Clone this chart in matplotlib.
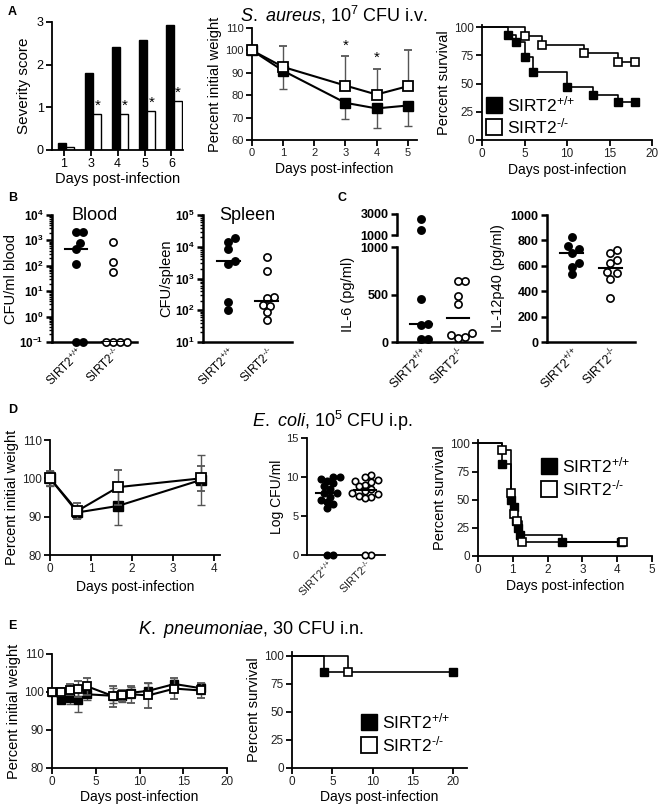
import numpy as np
import matplotlib
matplotlib.use("Agg")
import matplotlib.pyplot as plt
from matplotlib.lines import Line2D
from matplotlib.ticker import LogLocator, NullFormatter

plt.rcParams['font.family'] = ['Liberation Sans', 'DejaVu Sans']
plt.rcParams['mathtext.fontset'] = 'custom'
plt.rcParams['mathtext.rm'] = 'Liberation Sans'
plt.rcParams['mathtext.it'] = 'Liberation Sans:italic'
plt.rcParams['mathtext.bf'] = 'Liberation Sans:bold'

W, H = 661, 810
WT = r"SIRT2$^{\text{+/+}}$"
KO = r"SIRT2$^{\text{-/-}}$"
TICK = '#222222'

# ---------------- data ----------------
# A: severity score
sev_days = ['1', '3', '4', '5', '6']
sev_wt = [0.17, 1.8, 2.42, 2.58, 2.92]
sev_ko = [0.08, 0.85, 0.85, 0.92, 1.15]
sev_star = [False, True, True, True, True]

# A: weight, S. aureus
sa_days = [0, 1, 3, 4, 5]
sa_wt = [100, 90.9, 76.6, 74.1, 75.4]
sa_wt_err = [0, 8.3, 7.4, 8.9, 9.0]
sa_ko = [100, 92.6, 84.3, 80.3, 84.0]
sa_ko_err = [0, 9.2, 13.2, 11.2, 16.0]
sa_star_days = [3, 4]
sa_star_y = [99, 93.5]

# A: survival, S. aureus
sa_surv_t_wt = [0, 3, 4, 5, 6, 10, 13, 16, 18]
sa_surv_wt = [100, 93.3, 86.7, 73.3, 60, 46.7, 40, 33.3, 33.3]
sa_surv_t_ko = [0, 5, 7, 12, 16, 18]
sa_surv_ko = [100, 92.3, 84.6, 76.9, 69.2, 69.2]

# B: bacterial load
blood_wt = [2070, 2070, 815, 470, 123, 0.1, 0.1]
blood_ko = [880, 145, 58, 0.1, 0.1, 0.1, 0.1]
spleen_wt = [19000, 14400, 8500, 3550, 2800, 182, 100]
spleen_ko = [4800, 1700, 270, 250, 150, 140, 90, 48]

# C: cytokines
il6_wt = [2500, 1500, 457, 186, 179, 36, 36]
il6_ko = [643, 640, 482, 404, 96, 71, 55, 46]
il12_wt = [824, 755, 729, 703, 624, 587, 532]
il12_ko = [724, 703, 645, 620, 548, 540, 500, 347]

# D: E. coli
ec_days = [0, 0.67, 1.66, 3.69]
ec_wt = [100, 91.1, 92.8, 99.6]
ec_wt_err = [2, 1.5, 5.1, 6.6]
ec_ko = [100, 91.5, 97.7, 100]
ec_ko_err = [2, 2, 4.6, 3.2]
ec_cfu_wt = [10.0, 10.0, 9.8, 9.5, 9.2, 8.8, 8.5, 8.0, 7.9, 7.5, 7.0, 6.8, 6.5, 6.0, 0, 0]
ec_cfu_ko = [10.2, 10.0, 9.6, 9.5, 9.3, 9.0, 8.8, 8.5, 8.2, 8.0, 7.8, 7.6, 7.4, 7.3, 0, 0]
ec_surv_t_wt = [0, 0.68, 0.94, 1.03, 1.1, 1.14, 1.22, 2.4, 4.1]
ec_surv_wt = [100, 81.25, 50, 43.75, 31.25, 25, 18.75, 12.5, 12.5]
ec_surv_t_ko = [0, 0.68, 0.96, 1.03, 1.13, 1.25, 4.17]
ec_surv_ko = [100, 93.75, 56.25, 37.5, 31.25, 12.5, 12.5]

# E: K. pneumoniae
kp_days = [0, 1, 2, 3, 4, 7, 8, 9, 11, 14, 17]
kp_wt = [100, 98, 98.3, 97.8, 99.4, 99, 99, 99.8, 100.3, 102.1, 101]
kp_wt_err = [0.5, 1, 1.5, 3, 1.5, 2, 1.5, 1.5, 2, 1, 1.5]
kp_ko = [100, 100, 100.6, 100.8, 101.5, 98.9, 99.1, 99.4, 99.1, 100.9, 100.4]
kp_ko_err = [0.5, 1, 1.5, 2, 2.3, 2.8, 1.5, 2.3, 3.4, 2.8, 1.9]
kp_surv_t_wt = [0, 4, 20]
kp_surv_wt = [100, 85.7, 85.7]
kp_surv_t_ko = [0, 7]
kp_surv_ko = [100, 85.7]


def add_ax(fig, x0, y0, x1, y1):
    return fig.add_axes([x0 / W, 1 - y1 / H, (x1 - x0) / W, (y1 - y0) / H])


def style(ax, lw=1.3, size=8, color=TICK, bold=False):
    for s in ['top', 'right']:
        ax.spines[s].set_visible(False)
    for s in ['left', 'bottom']:
        ax.spines[s].set_linewidth(lw)
    ax.tick_params(direction='out', length=4, width=lw, labelsize=size, labelcolor=color, pad=2)
    if bold:
        for lab in ax.get_yticklabels():
            lab.set_fontweight('bold')


def swarm_x(ax, center, vals, diam):
    pts = ax.transData.transform(np.column_stack([np.full(len(vals), center), vals]))
    order = np.argsort(pts[:, 1])
    placed = []
    xs = np.zeros(len(vals))
    for i in order:
        px, py = pts[i]
        off = 0
        for k in range(60):
            off = ((k + 1) // 2) * (1 if k % 2 else -1) * diam * 0.5
            if all((px + off - qx) ** 2 + (py - qy) ** 2 >= (diam * 0.95) ** 2 for qx, qy in placed):
                break
        placed.append((px + off, py))
        xs[i] = px + off
    back = ax.transData.inverted().transform(np.column_stack([xs, pts[:, 1]]))
    return back[:, 0]


def dots(ax, vals, center, filled, diam=7, ms=5.2):
    xs = swarm_x(ax, center, vals, diam)
    ax.plot(xs, vals, 'o', ms=ms, mfc='k' if filled else 'w', mec='k', mew=1.2,
            ls='none', clip_on=False, zorder=3)


def median_line(ax, center, vals, half=0.3):
    m = np.median(vals)
    ax.plot([center - half, center + half], [m, m], color='k', lw=1.5, zorder=4)


def group_xticks(ax, size=10.5):
    ax.set_xticks([1, 2])
    ax.set_xticklabels([WT, KO], rotation=45, ha='right', va='top',
                       rotation_mode='anchor', fontsize=size, color='k')
    ax.tick_params(axis='x', length=0, pad=4)


def weight(ax, days, wt, wt_err, ko, ko_err, wt_dir='both', ko_dir='both', ms=6.5):
    def yerr(err, d):
        err = np.array(err, float)
        z = np.zeros_like(err)
        if d == 'down':
            return [err, z]
        if d == 'up':
            return [z, err]
        return [err, err]
    ax.errorbar(days, wt, yerr=yerr(wt_err, wt_dir), fmt='-s', color='k', mfc='k', mec='k',
                ms=ms, lw=1.5, ecolor='#555555', elinewidth=1, capsize=3, clip_on=False, zorder=3)
    ax.errorbar(days, ko, yerr=yerr(ko_err, ko_dir), fmt='-s', color='k', mfc='w', mec='k',
                mew=1.3, ms=ms, lw=1.5, ecolor='#555555', elinewidth=1, capsize=3, clip_on=False, zorder=4)


def survival(ax, t_wt, s_wt, t_ko, s_ko, ms=6):
    ax.step(t_wt, s_wt, where='post', color='k', lw=1.2, clip_on=False)
    ax.step(t_ko, s_ko, where='post', color='k', lw=1.2, clip_on=False)
    ax.plot(t_wt[1:], s_wt[1:], 's', ms=ms, mfc='k', mec='k', ls='none', clip_on=False, zorder=3)
    ax.plot(t_ko[1:], s_ko[1:], 's', ms=ms, mfc='w', mec='k', mew=1.2, ls='none', clip_on=False, zorder=4)
    ax.set_yticks([0, 25, 50, 75, 100])
    ax.set_ylabel('Percent survival', fontsize=10.5, labelpad=2)
    ax.set_xlabel('Days post-infection', fontsize=10, labelpad=2)


def legend(ax, anchor):
    h = [Line2D([], [], marker='s', ls='none', mfc='k', mec='k', ms=11),
         Line2D([], [], marker='s', ls='none', mfc='w', mec='k', mew=1.3, ms=11)]
    ax.legend(h, [WT, KO], frameon=False, loc='lower left', bbox_to_anchor=anchor,
              fontsize=12.5, handletextpad=0.25, labelspacing=0.15, borderaxespad=0,
              borderpad=0, handlelength=1.0)


def main():
    fig = plt.figure(figsize=(W / 100, H / 100), dpi=100)

    # ---- A1 severity ----
    ax = add_ax(fig, 52, 22, 183, 150)
    x = np.arange(len(sev_days))
    ax.bar(x - 0.15, sev_wt, 0.3, color='k', edgecolor='k', lw=1)
    ax.bar(x + 0.15, sev_ko, 0.3, color='w', edgecolor='k', lw=1)
    for xi, v, s in zip(x, sev_ko, sev_star):
        if s:
            ax.text(xi + 0.17, v + 0.02, '*', ha='center', va='bottom', fontsize=11)
    ax.set_xlim(-0.52, 4.35)
    ax.set_ylim(0, 3)
    ax.set_yticks([0, 1, 2, 3])
    ax.set_xticks(x - 0.08)
    ax.set_xticklabels(sev_days)
    ax.set_ylabel('Severity score', fontsize=11)
    ax.set_xlabel('Days post-infection', fontsize=10.5, labelpad=1)
    style(ax, size=9, color='k')

    # ---- A2 weight ----
    ax = add_ax(fig, 252, 28, 417, 140)
    weight(ax, sa_days, sa_wt, sa_wt_err, sa_ko, sa_ko_err, wt_dir='down', ko_dir='up')
    for d, y in zip(sa_star_days, sa_star_y):
        ax.text(d, y, '*', ha='center', va='bottom', fontsize=11)
    ax.set_xlim(0, 5.3)
    ax.set_ylim(60, 110)
    ax.set_yticks(range(60, 111, 10))
    ax.set_xticks(range(0, 6))
    ax.set_ylabel('Percent initial weight', fontsize=10.5, labelpad=2)
    ax.set_xlabel('Days post-infection', fontsize=10, labelpad=3)
    ax.set_title(r"$\mathit{S.}$ $\mathit{aureus}$, 10$^{7}$ CFU i.v.", fontsize=13, pad=5)
    style(ax, size=8)

    # ---- A3 survival ----
    ax = add_ax(fig, 482, 25, 652, 140)
    survival(ax, sa_surv_t_wt, sa_surv_wt, sa_surv_t_ko, sa_surv_ko)
    ax.set_xlim(0, 20)
    ax.set_ylim(0, 102)
    ax.set_xticks([0, 5, 10, 15, 20])
    legend(ax, (0.02, 0.03))
    style(ax, size=8.5)

    # ---- B1 blood ----
    ax = add_ax(fig, 52, 215, 137, 342)
    ax.set_yscale('log')
    ax.set_ylim(0.1, 1e4)
    ax.set_xlim(0.35, 2.65)
    dec = [-1, 0, 1, 2, 3, 4]
    ax.set_yticks([10.0 ** d for d in dec])
    ax.set_yticklabels([r"$\mathbf{10^{%d}}$" % d for d in dec])
    ax.yaxis.set_minor_locator(LogLocator(base=10, subs=np.arange(2, 10)))
    ax.yaxis.set_minor_formatter(NullFormatter())
    dots(ax, blood_wt, 1, True)
    dots(ax, blood_ko, 2, False)
    median_line(ax, 1, blood_wt)
    median_line(ax, 2, blood_ko)
    group_xticks(ax)
    ax.set_ylabel('CFU/ml blood', fontsize=10.5, labelpad=1)
    ax.text(1.5, 1e4, 'Blood', ha='center', va='center', fontsize=13)
    style(ax, lw=1.8, size=8.5, color='k')
    ax.tick_params(axis='y', which='minor', length=2, width=1)
    ax.tick_params(axis='x', length=0)

    # ---- B2 spleen ----
    ax = add_ax(fig, 203, 215, 292, 342)
    ax.set_yscale('log')
    ax.set_ylim(10, 1e5)
    ax.set_xlim(0.35, 2.65)
    dec = [1, 2, 3, 4, 5]
    ax.set_yticks([10.0 ** d for d in dec])
    ax.set_yticklabels([r"$\mathbf{10^{%d}}$" % d for d in dec])
    ax.yaxis.set_minor_locator(LogLocator(base=10, subs=np.arange(2, 10)))
    ax.yaxis.set_minor_formatter(NullFormatter())
    dots(ax, spleen_wt, 1, True)
    dots(ax, spleen_ko, 2, False)
    median_line(ax, 1, spleen_wt)
    median_line(ax, 2, spleen_ko)
    group_xticks(ax)
    ax.set_ylabel('CFU/spleen', fontsize=10.5, labelpad=1)
    ax.text(1.5, 1e5, 'Spleen', ha='center', va='center', fontsize=13)
    style(ax, lw=1.8, size=8.5, color='k')
    ax.tick_params(axis='y', which='minor', length=2, width=1)
    ax.tick_params(axis='x', length=0)

    # ---- C1 IL-6 (broken axis) ----
    ax = add_ax(fig, 397, 247, 482, 342)
    top = add_ax(fig, 397, 214, 482, 235)
    ax.set_ylim(0, 1000)
    ax.set_xlim(0.35, 2.65)
    ax.set_yticks([0, 500, 1000])
    top.set_ylim(1000, 3000)
    top.set_xlim(0.35, 2.65)
    top.set_yticks([1000, 3000])
    low_wt = [v for v in il6_wt if v <= 1000]
    high_wt = [v for v in il6_wt if v > 1000]
    dots(ax, low_wt, 1, True)
    dots(top, high_wt, 1, True)
    dots(ax, il6_ko, 2, False)
    median_line(ax, 1, il6_wt)
    median_line(ax, 2, il6_ko)
    group_xticks(ax)
    ax.set_ylabel('IL-6 (pg/ml)', fontsize=10.5)
    style(ax, lw=1.8, size=9, color='k', bold=True)
    style(top, lw=1.8, size=9, color='k', bold=True)
    top.spines['bottom'].set_visible(False)
    top.set_xticks([])
    ax.tick_params(axis='x', length=0)

    # ---- C2 IL-12p40 ----
    ax = add_ax(fig, 547, 215, 635, 342)
    ax.set_ylim(0, 1000)
    ax.set_xlim(0.35, 2.65)
    ax.set_yticks(range(0, 1001, 200))
    dots(ax, il12_wt, 1, True)
    dots(ax, il12_ko, 2, False)
    median_line(ax, 1, il12_wt)
    median_line(ax, 2, il12_ko)
    group_xticks(ax)
    ax.set_ylabel('IL-12p40 (pg/ml)', fontsize=10.5)
    style(ax, lw=1.8, size=9, color='k', bold=True)
    ax.tick_params(axis='x', length=0)

    # ---- D1 weight E. coli ----
    ax = add_ax(fig, 50, 440, 220, 555)
    weight(ax, ec_days, ec_wt, ec_wt_err, ec_ko, ec_ko_err)
    ax.set_xlim(0, 4.15)
    ax.set_ylim(80, 110)
    ax.set_yticks([80, 90, 100, 110])
    ax.set_xticks(range(0, 5))
    ax.set_ylabel('Percent initial weight', fontsize=10.5, labelpad=2)
    ax.set_xlabel('Days post-infection', fontsize=10, labelpad=3)
    style(ax, size=8.5)

    # ---- D2 CFU ----
    ax = add_ax(fig, 307, 438, 385, 555)
    ax.set_ylim(0, 15)
    ax.set_xlim(0.47, 2.53)
    ax.set_yticks([0, 5, 10, 15])
    dots(ax, ec_cfu_wt, 1, True, diam=6.3, ms=4.6)
    dots(ax, ec_cfu_ko, 2, False, diam=6.3, ms=4.6)
    median_line(ax, 1, ec_cfu_wt, half=0.28)
    median_line(ax, 2, ec_cfu_ko, half=0.28)
    group_xticks(ax, size=8)
    ax.set_ylabel('Log CFU/ml', fontsize=10, labelpad=2)
    style(ax, lw=1.3, size=8)
    ax.tick_params(axis='x', length=0)
    fig.text(333 / W, 1 - 421 / H, r"$\mathit{E.}$ $\mathit{coli}$, 10$^{5}$ CFU i.p.",
             ha='center', va='center', fontsize=13)

    # ---- D3 survival ----
    ax = add_ax(fig, 478, 440, 652, 556)
    survival(ax, ec_surv_t_wt, ec_surv_wt, ec_surv_t_ko, ec_surv_ko)
    ax.set_xlim(0, 5)
    ax.set_ylim(0, 103)
    ax.set_xticks(range(0, 6))
    legend(ax, (0.36, 0.5))
    style(ax, size=8.5)

    # ---- E1 weight K. pneumoniae ----
    ax = add_ax(fig, 52, 654, 227, 768)
    weight(ax, kp_days, kp_wt, kp_wt_err, kp_ko, kp_ko_err, ms=6)
    ax.set_xlim(0, 20)
    ax.set_ylim(80, 110)
    ax.set_yticks([80, 90, 100, 110])
    ax.set_xticks([0, 5, 10, 15, 20])
    ax.set_ylabel('Percent initial weight', fontsize=10.5, labelpad=2)
    ax.set_xlabel('Days post-infection', fontsize=10, labelpad=1)
    style(ax, size=8.5)
    fig.text(251 / W, 1 - 630 / H, r"$\mathit{K.}$ $\mathit{pneumoniae}$, 30 CFU i.n.",
             ha='center', va='center', fontsize=13)

    # ---- E2 survival ----
    ax = add_ax(fig, 292, 652, 467, 768)
    survival(ax, kp_surv_t_wt, kp_surv_wt, kp_surv_t_ko, kp_surv_ko)
    ax.xaxis.labelpad = 1
    ax.set_xlim(0, 21.7)
    ax.set_ylim(0, 103.5)
    ax.set_xticks([0, 5, 10, 15, 20])
    legend(ax, (0.39, 0.12))
    style(ax, size=8.5)

    # panel letters
    for letter, px, py in [('A', 8, 12), ('B', 8, 198), ('C', 337, 198), ('D', 8, 410), ('E', 8, 626)]:
        fig.text(px / W, 1 - py / H, letter, fontsize=9, fontweight='bold', va='center')

    fig.savefig('out.png', dpi=100)


main()
